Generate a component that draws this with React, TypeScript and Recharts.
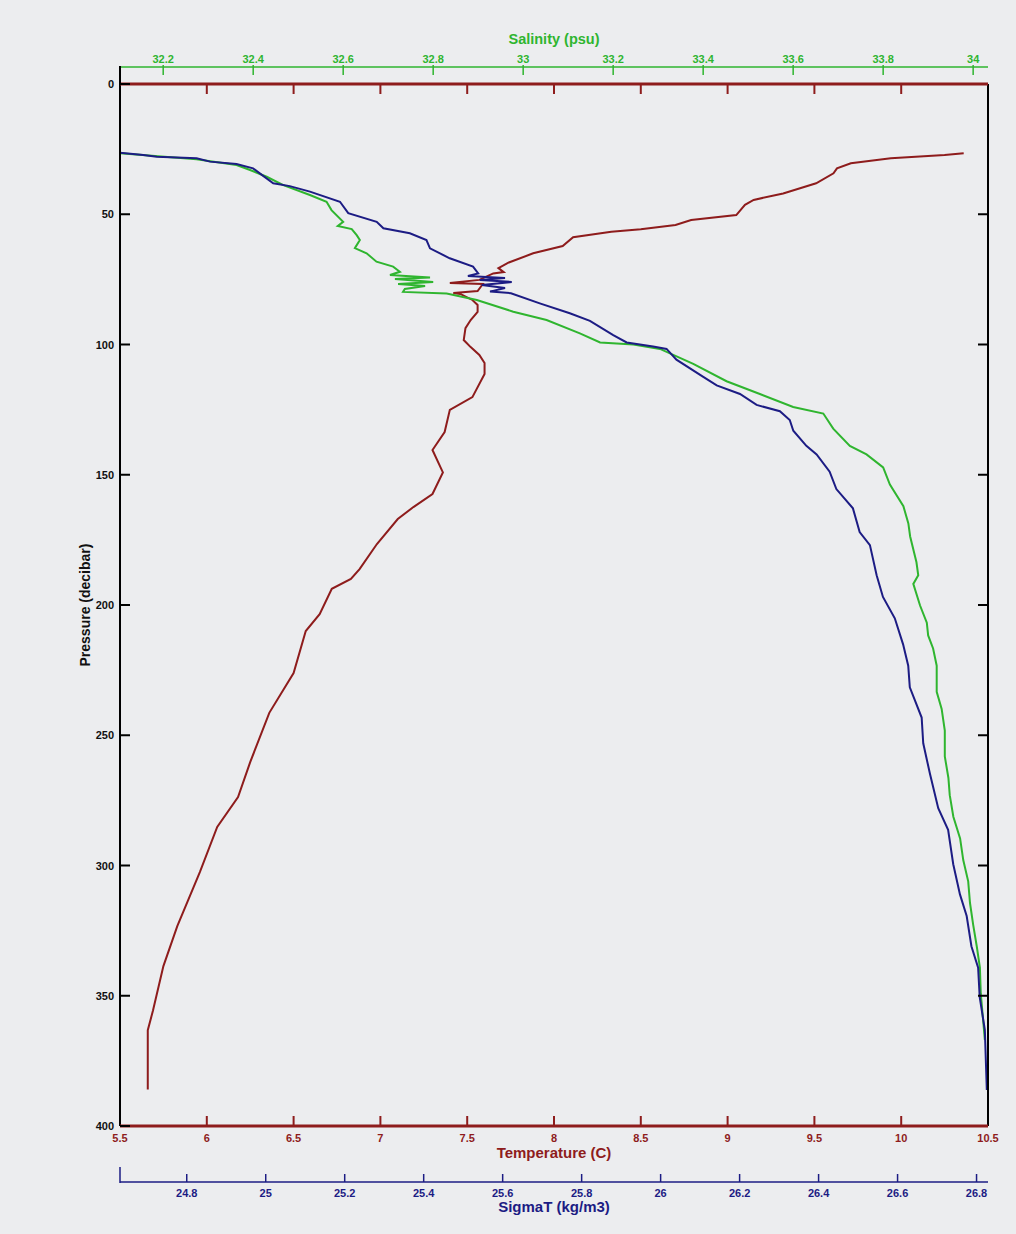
import { LineChart, Line, XAxis, YAxis } from 'recharts';

const RED = '#8e1c1c';
const GREEN = '#2fb52f';
const NAVY = '#1c1c84';
const BG = '#ecedef';
const FONT = '"Liberation Sans", Arial, sans-serif';

const salMin = 32.104;
const salMax = 34.033;
const sigmaMin = 24.631;
const sigmaMax = 26.829;

// axis ticks
const pressureTicks = [0, 50, 100, 150, 200, 250, 300, 350, 400];
const tempTicks = [5.5, 6, 6.5, 7, 7.5, 8, 8.5, 9, 9.5, 10, 10.5];
const tempTopTicks = [6, 6.5, 7, 7.5, 8, 8.5, 9, 9.5, 10];
const salTicks = [salMin, 32.2, 32.4, 32.6, 32.8, 33, 33.2, 33.4, 33.6, 33.8, 34];
const sigmaTicks = [sigmaMin, 24.8, 25, 25.2, 25.4, 25.6, 25.8, 26, 26.2, 26.4, 26.6, 26.8];

// temperature profile (decibar, C)
const tempP = [
  26.6, 27.3, 28.5, 30.4, 32.4, 34.3, 38.1, 42.0, 44.5, 46.4, 50.3, 52.2, 54.1, 55.8, 56.7,
  58.8, 62.2, 65.0, 68.5, 70.7, 72.2, 72.7, 75.2, 76.4, 76.8, 79.5, 80.2, 80.6, 82.9, 84.8,
  87.5, 90.6, 93.7, 98.3, 101.0, 104.0, 107.1, 111.3, 120.2, 125.1, 133.6, 140.5, 149.1, 157.4,
  162.4, 167.0, 176.6, 186.2, 190.0, 193.8, 203.5, 210.0, 226.1, 241.4, 260.3, 273.7, 285.2,
  302.5, 323.3, 338.6, 355.7, 363.2, 386.0,
];
const tempV = [
  10.36, 10.25, 9.94, 9.71, 9.63, 9.61, 9.51, 9.32, 9.15, 9.1, 9.05, 8.79, 8.7, 8.5, 8.33,
  8.11, 8.05, 7.88, 7.74, 7.68, 7.71, 7.65, 7.57, 7.4, 7.59, 7.56, 7.42, 7.46, 7.53, 7.56,
  7.56, 7.52, 7.49, 7.48, 7.52, 7.57, 7.6, 7.6, 7.53, 7.4, 7.37, 7.3, 7.36, 7.3,
  7.19, 7.1, 6.98, 6.88, 6.83, 6.72, 6.65, 6.57, 6.5, 6.36, 6.25, 6.18, 6.06,
  5.96, 5.83, 5.75, 5.69, 5.66, 5.66,
];

// salinity profile (decibar, psu)
const salP = [
  26.6, 28.9, 31.1, 33.0, 35.6, 38.8, 42.6, 45.2, 48.4, 52.9, 54.5, 55.7, 58.0, 59.9, 63.0,
  65.0, 68.2, 70.1, 72.1, 73.3, 74.3, 74.9, 76.0, 76.8, 77.5, 78.7, 79.8, 80.4, 82.9, 87.4,
  90.6, 95.7, 99.2, 100.0, 101.7, 107.4, 114.1, 119.0, 124.0, 126.5, 132.3, 138.9, 142.2,
  147.2, 153.8, 162.1, 168.7, 173.7, 183.6, 188.6, 191.9, 200.2, 206.8, 211.7, 216.7, 223.3,
  233.3, 239.9, 248.2, 258.1, 266.4, 273.0, 281.3, 289.6, 297.9, 306.1, 314.4, 322.7, 331.0,
  339.2, 349.2, 367.0,
];
const salV = [
  32.104, 32.274, 32.363, 32.393, 32.43, 32.467, 32.526, 32.563, 32.574, 32.6, 32.588, 32.619,
  32.63, 32.637, 32.626, 32.652, 32.674, 32.711, 32.726, 32.704, 32.793, 32.715, 32.8, 32.722,
  32.782, 32.737, 32.733, 32.83, 32.897, 32.978, 33.052, 33.126, 33.171, 33.245, 33.304,
  33.378, 33.452, 33.526, 33.6, 33.667, 33.689, 33.726, 33.763, 33.8, 33.815, 33.845, 33.856,
  33.86, 33.874, 33.878, 33.867, 33.882, 33.897, 33.9, 33.911, 33.919, 33.919, 33.93, 33.937,
  33.937, 33.945, 33.948, 33.956, 33.971, 33.978, 33.989, 33.993, 34.0, 34.008, 34.015, 34.017,
  34.026,
];

// sigma-t profile (decibar, kg/m3)
const sigmaP = [
  26.4, 27.3, 27.9, 28.5, 29.8, 30.7, 32.4, 34.3, 38.1, 39.2, 41.3, 45.2, 49.6, 52.9, 55.4,
  57.3, 59.9, 63.1, 66.9, 70.1, 72.7, 73.7, 74.5, 75.2, 76.0, 77.2, 78.3, 79.7, 80.3, 84.2,
  88.0, 90.9, 96.4, 99.2, 100.8, 101.7, 105.8, 112.4, 115.7, 119.0, 123.2, 125.6, 129.0,
  133.1, 138.9, 142.2, 148.8, 155.5, 162.9, 172.0, 177.0, 188.6, 196.9, 205.1, 215.1, 223.3,
  231.6, 243.2, 253.1, 264.8, 278.0, 286.3, 299.5, 311.1, 319.4, 331.0, 339.2, 350.5, 363.1,
  386.2,
];
const sigmaV = [
  24.631, 24.69, 24.724, 24.825, 24.859, 24.926, 24.968, 24.985, 25.019, 25.061, 25.112,
  25.188, 25.209, 25.281, 25.298, 25.365, 25.407, 25.416, 25.466, 25.525, 25.538, 25.512,
  25.606, 25.542, 25.623, 25.547, 25.606, 25.568, 25.621, 25.694, 25.77, 25.821, 25.88,
  25.914, 25.981, 26.015, 26.04, 26.108, 26.142, 26.201, 26.243, 26.302, 26.327, 26.336,
  26.369, 26.395, 26.428, 26.445, 26.487, 26.504, 26.53, 26.547, 26.563, 26.593, 26.614,
  26.627, 26.631, 26.661, 26.665, 26.682, 26.703, 26.728, 26.741, 26.758, 26.775, 26.787,
  26.804, 26.808, 26.821, 26.826,
];

const tempData = tempP.map((p, i) => ({ p, v: tempV[i] }));
const salData = salP.map((p, i) => ({ p, v: salV[i] }));
const sigmaData = sigmaP.map((p, i) => ({ p, v: sigmaV[i] }));

const tickText = { fontFamily: FONT, fontSize: 11, fontWeight: 'bold' as const };

const PressureTick = (props: any) => {
  const { x, y, payload } = props;
  return (
    <g>
      <line x1={x} x2={x + 10} y1={y} y2={y} stroke="#000" strokeWidth={2} />
      <text x={x - 6} y={y + 4} textAnchor="end" fill="#111" {...tickText}>{payload.value}</text>
    </g>
  );
};

const RightTick = (props: any) => {
  const { x, y } = props;
  return <line x1={x} x2={x - 10} y1={y} y2={y} stroke="#000" strokeWidth={2} />;
};

const TempTick = (props: any) => {
  const { x, y, payload } = props;
  const inner = payload.value > 5.5 && payload.value < 10.5;
  return (
    <g>
      {inner && <line x1={x} x2={x} y1={y} y2={y - 10} stroke={RED} strokeWidth={2} />}
      <text x={x} y={y + 16} textAnchor="middle" fill={RED} {...tickText}>{payload.value}</text>
    </g>
  );
};

const TempTopTick = (props: any) => {
  const { x, y } = props;
  return <line x1={x} x2={x} y1={y} y2={y + 10} stroke={RED} strokeWidth={2} />;
};

const SalTick = (props: any) => {
  const { x, y, payload } = props;
  if (payload.value === salMin) {
    // left frame continues up to the salinity axis
    return <line x1={x} x2={x} y1={y - 1} y2={y + 17} stroke="#000" strokeWidth={2} />;
  }
  return (
    <g>
      <line x1={x} x2={x} y1={y - 2} y2={y + 8} stroke={GREEN} strokeWidth={1.5} />
      <text x={x} y={y - 4} textAnchor="middle" fill={GREEN} {...tickText}>{payload.value}</text>
    </g>
  );
};

const SigmaTick = (props: any) => {
  const { x, y, payload } = props;
  if (payload.value === sigmaMin) {
    return <line x1={x} x2={x} y1={y + 1} y2={y - 15} stroke={NAVY} strokeWidth={1.5} />;
  }
  return (
    <g>
      <line x1={x} x2={x} y1={y} y2={y - 8} stroke={NAVY} strokeWidth={1.5} />
      <text x={x} y={y + 15} textAnchor="middle" fill={NAVY} {...tickText}>{payload.value}</text>
    </g>
  );
};

const titleStyle = { fontFamily: FONT, fontWeight: 'bold' as const };

const XTitle = (text: string, color: string, dy: number, size: number) => (props: any) => {
  const vb = props.viewBox;
  return (
    <text
      x={vb.x + vb.width / 2}
      y={vb.y + dy}
      textAnchor="middle"
      fill={color}
      fontSize={size}
      {...titleStyle}
    >
      {text}
    </text>
  );
};

const PressureTitle = (props: any) => {
  const vb = props.viewBox;
  const cx = vb.x + 26;
  const cy = vb.y + vb.height / 2;
  return (
    <text
      x={cx}
      y={cy}
      textAnchor="middle"
      dominantBaseline="middle"
      transform={`rotate(-90, ${cx}, ${cy})`}
      fill="#111"
      fontSize={14}
      {...titleStyle}
    >
      Pressure (decibar)
    </text>
  );
};

export default function App() {
  return (
    <div style={{ position: 'absolute', left: 0, top: 0, width: 1016, height: 1234, background: BG }}>
      <LineChart
        width={1016}
        height={1234}
        layout="vertical"
        margin={{ top: 27, right: 0, bottom: 8, left: 60 }}
      >
        <YAxis
          yAxisId="p"
          type="number"
          dataKey="p"
          domain={[0, 400]}
          ticks={pressureTicks}
          interval={0}
          allowDataOverflow
          width={60}
          tickSize={0}
          tickMargin={0}
          tick={<PressureTick />}
          axisLine={{ stroke: '#000', strokeWidth: 2 }}
          tickLine={false}
          label={{ content: <PressureTitle /> }}
        />
        <YAxis
          yAxisId="pr"
          orientation="right"
          type="number"
          dataKey="p"
          domain={[0, 400]}
          ticks={pressureTicks.slice(1, -1)}
          interval={0}
          allowDataOverflow
          width={28}
          tickSize={0}
          tickMargin={0}
          tick={<RightTick />}
          axisLine={{ stroke: '#000', strokeWidth: 2 }}
          tickLine={false}
        />
        {/* outer top axis: salinity */}
        <XAxis
          xAxisId="b_sal"
          orientation="top"
          type="number"
          domain={[salMin, salMax]}
          ticks={salTicks}
          interval={0}
          allowDataOverflow
          height={40}
          tickSize={0}
          tickMargin={0}
          tick={<SalTick />}
          axisLine={{ stroke: GREEN, strokeWidth: 1.5 }}
          tickLine={false}
          label={{ content: XTitle('Salinity (psu)', GREEN, 17, 14.5) }}
        />
        {/* inner top axis: temperature frame */}
        <XAxis
          xAxisId="a_tTop"
          orientation="top"
          type="number"
          domain={[5.5, 10.5]}
          ticks={tempTopTicks}
          interval={0}
          allowDataOverflow
          height={17}
          tickSize={0}
          tickMargin={0}
          tick={<TempTopTick />}
          axisLine={{ stroke: RED, strokeWidth: 3 }}
          tickLine={false}
        />
        {/* outer bottom axis: sigma-t */}
        <XAxis
          xAxisId="d_sigma"
          orientation="bottom"
          type="number"
          domain={[sigmaMin, sigmaMax]}
          ticks={sigmaTicks}
          interval={0}
          allowDataOverflow
          height={44}
          tickSize={0}
          tickMargin={0}
          tick={<SigmaTick />}
          axisLine={{ stroke: NAVY, strokeWidth: 1.5 }}
          tickLine={false}
          label={{ content: XTitle('SigmaT (kg/m3)', NAVY, 30, 15) }}
        />
        {/* inner bottom axis: temperature */}
        <XAxis
          xAxisId="c_temp"
          orientation="bottom"
          type="number"
          domain={[5.5, 10.5]}
          ticks={tempTicks}
          interval={0}
          allowDataOverflow
          height={56}
          tickSize={0}
          tickMargin={0}
          tick={<TempTick />}
          axisLine={{ stroke: RED, strokeWidth: 3 }}
          tickLine={false}
          label={{ content: XTitle('Temperature (C)', RED, 32, 15) }}
        />
        <Line
          data={tempData}
          dataKey="v"
          xAxisId="c_temp"
          yAxisId="p"
          type="linear"
          stroke={RED}
          strokeWidth={2}
          dot={false}
          isAnimationActive={false}
        />
        <Line
          data={salData}
          dataKey="v"
          xAxisId="b_sal"
          yAxisId="p"
          type="linear"
          stroke={GREEN}
          strokeWidth={2}
          dot={false}
          isAnimationActive={false}
        />
        <Line
          data={sigmaData}
          dataKey="v"
          xAxisId="d_sigma"
          yAxisId="p"
          type="linear"
          stroke={NAVY}
          strokeWidth={2}
          dot={false}
          isAnimationActive={false}
        />
      </LineChart>
    </div>
  );
}
